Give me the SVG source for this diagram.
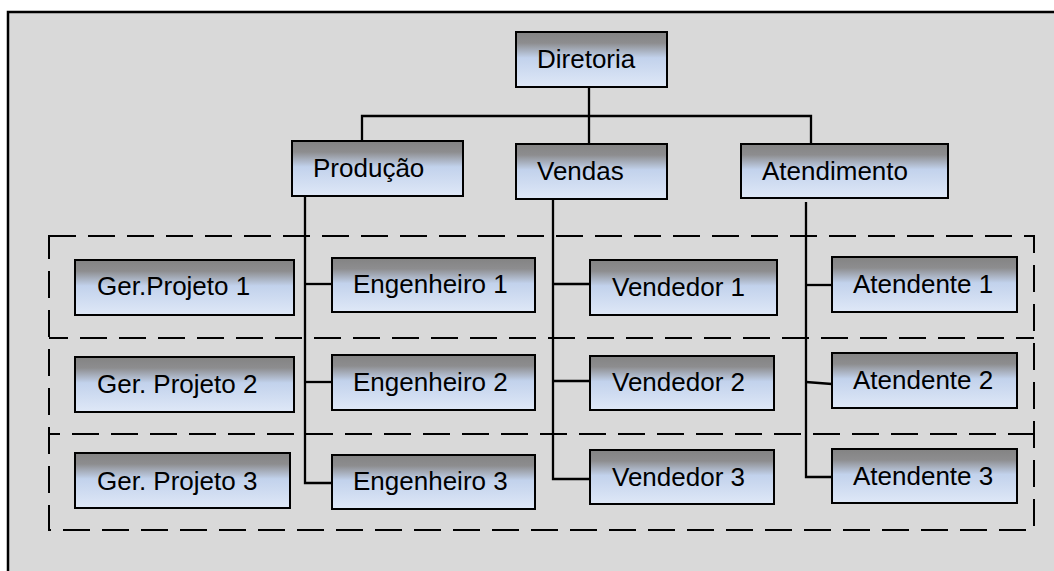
<svg xmlns="http://www.w3.org/2000/svg" width="1054" height="571" viewBox="0 0 1054 571">
  <defs>
    <linearGradient id="boxFill" x1="0" y1="0" x2="0" y2="1">
      <stop offset="0" stop-color="#838383"/>
      <stop offset="0.2" stop-color="#8d8d8f"/>
      <stop offset="0.47" stop-color="#c2d2ec"/>
      <stop offset="1" stop-color="#dfe8f7"/>
    </linearGradient>
    <style>
      .box { fill: url(#boxFill); stroke: #000; stroke-width: 2; }
      .lbl { font-family: "Liberation Sans", Arial, sans-serif; font-size: 26px; fill: #000; }
      .wire { fill: none; stroke: #000; stroke-width: 2.3; }
      .band { fill: none; stroke: #000; stroke-width: 2; stroke-dasharray: 27 12; }
    </style>
  </defs>

  <!-- page background and frame -->
  <rect x="0" y="0" width="1054" height="571" fill="#ffffff"/>
  <rect x="8" y="12" width="1060" height="570" fill="#d9d9d9"/>
  <path d="M8,575 V12 H1060" fill="none" stroke="#000" stroke-width="2.5"/>

  <!-- dashed row bands -->
  <g id="bands">
    <rect class="band" x="49" y="236" width="985" height="294"/>
    <path class="band" d="M49,338 H1034" stroke-dashoffset="8"/>
    <path class="band" d="M49,434 H1034" stroke-dashoffset="16"/>
  </g>

  <!-- connectors -->
  <g id="connectors">
    <path class="wire" d="M589,87 V116"/>
    <path class="wire" d="M362,142 V116 H811 V145"/>
    <path class="wire" d="M589,116 V144"/>
    <!-- Produção branch -->
    <path class="wire" d="M305,196 V483 H332"/>
    <path class="wire" d="M305,284 H332"/>
    <path class="wire" d="M305,382 H332"/>
    <!-- Vendas branch -->
    <path class="wire" d="M553,199 V479 H590"/>
    <path class="wire" d="M553,284 H590"/>
    <path class="wire" d="M553,381 H590"/>
    <!-- Atendimento branch -->
    <path class="wire" d="M806,202 V477 H832"/>
    <path class="wire" d="M806,285 H832"/>
    <path class="wire" d="M806,382 L832,384"/>
  </g>

  <g id="diretoria">
    <rect class="box" x="516" y="32" width="151" height="55"/>
    <text class="lbl" x="537" y="68">Diretoria</text>
  </g>

  <g id="producao">
    <rect class="box" x="292" y="141" width="171" height="55"/>
    <text class="lbl" x="313" y="177">Produção</text>
  </g>
  <g id="vendas">
    <rect class="box" x="516" y="144" width="151" height="55"/>
    <text class="lbl" x="537" y="180">Vendas</text>
  </g>
  <g id="atendimento">
    <rect class="box" x="741" y="144" width="207" height="54"/>
    <text class="lbl" x="762" y="180">Atendimento</text>
  </g>

  <g id="gerprojeto1">
    <rect class="box" x="75" y="260" width="219" height="55"/>
    <text class="lbl" x="97" y="295">Ger.Projeto 1</text>
  </g>
  <g id="gerprojeto2">
    <rect class="box" x="75" y="357" width="219" height="55"/>
    <text class="lbl" x="97" y="393">Ger. Projeto 2</text>
  </g>
  <g id="gerprojeto3">
    <rect class="box" x="75" y="453" width="215" height="55"/>
    <text class="lbl" x="97" y="490">Ger. Projeto 3</text>
  </g>

  <g id="engenheiro1">
    <rect class="box" x="332" y="258" width="203" height="54"/>
    <text class="lbl" x="353" y="293">Engenheiro 1</text>
  </g>
  <g id="engenheiro2">
    <rect class="box" x="332" y="355" width="203" height="55"/>
    <text class="lbl" x="353" y="391">Engenheiro 2</text>
  </g>
  <g id="engenheiro3">
    <rect class="box" x="332" y="455" width="203" height="54"/>
    <text class="lbl" x="353" y="490">Engenheiro 3</text>
  </g>

  <g id="vendedor1">
    <rect class="box" x="590" y="260" width="187" height="55"/>
    <text class="lbl" x="612" y="296">Vendedor 1</text>
  </g>
  <g id="vendedor2">
    <rect class="box" x="590" y="356" width="184" height="54"/>
    <text class="lbl" x="612" y="391">Vendedor 2</text>
  </g>
  <g id="vendedor3">
    <rect class="box" x="590" y="450" width="184" height="54"/>
    <text class="lbl" x="612" y="486">Vendedor 3</text>
  </g>

  <g id="atendente1">
    <rect class="box" x="832" y="257" width="185" height="55"/>
    <text class="lbl" x="853" y="293">Atendente 1</text>
  </g>
  <g id="atendente2">
    <rect class="box" x="832" y="353" width="185" height="55"/>
    <text class="lbl" x="853" y="389">Atendente 2</text>
  </g>
  <g id="atendente3">
    <rect class="box" x="832" y="449" width="185" height="54"/>
    <text class="lbl" x="853" y="485">Atendente 3</text>
  </g>
</svg>
